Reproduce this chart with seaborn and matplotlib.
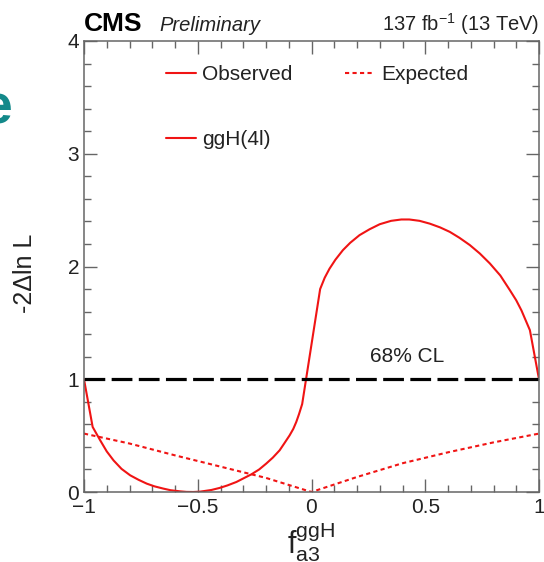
import matplotlib
matplotlib.use("Agg")
import matplotlib.pyplot as plt
from matplotlib.lines import Line2D
from matplotlib.ticker import MultipleLocator
import numpy as np
import pandas as pd
import seaborn as sns

# Likelihood scan in f_a3 (ggH, 4l channel)
obs_x = [-1.0, -0.962, -0.929, -0.90, -0.87, -0.835, -0.797, -0.76, -0.724,
         -0.69, -0.651, -0.62, -0.578, -0.55, -0.52, -0.49, -0.44, -0.404,
         -0.37, -0.33, -0.30, -0.264, -0.23, -0.199, -0.17, -0.14, -0.12,
         -0.096, -0.08, -0.067, -0.055, -0.041,
         0.038, 0.058, 0.079, 0.105, 0.138, 0.17, 0.211, 0.255, 0.30, 0.35,
         0.395, 0.43, 0.475, 0.52, 0.565, 0.608, 0.65, 0.696, 0.74, 0.784,
         0.83, 0.872, 0.90, 0.923, 0.960, 1.0]
obs_y = [1.0, 0.577, 0.459, 0.36, 0.28, 0.205, 0.148, 0.108, 0.074,
         0.05, 0.03, 0.016, 0.006, 0.001, 0.0, 0.003, 0.018, 0.036,
         0.058, 0.089, 0.12, 0.157, 0.2, 0.252, 0.305, 0.37, 0.43,
         0.503, 0.56, 0.621, 0.69, 0.78,
         1.80, 1.90, 1.98, 2.06, 2.145, 2.21, 2.278, 2.33, 2.375, 2.405,
         2.417, 2.417, 2.405, 2.38, 2.347, 2.307, 2.255, 2.19, 2.115, 2.027,
         1.92, 1.79, 1.70, 1.61, 1.435, 1.0]

exp_x = [-1.0, -0.8, -0.6, -0.4, -0.2, 0.0, 0.2, 0.4, 0.6, 0.8, 1.0]
exp_y = [0.518, 0.43, 0.325, 0.225, 0.125, 0.0, 0.133, 0.255, 0.352, 0.44, 0.518]

cl_level = 1.0
cl_label = "68% CL"

x_ticks = [-1, -0.5, 0, 0.5, 1]
x_tick_labels = ["\u22121", "\u22120.5", "0", "0.5", "1"]
y_ticks = [0, 1, 2, 3, 4]

sns.set_style("ticks")
plt.rcParams["font.family"] = ["Liberation Sans", "DejaVu Sans"]
plt.rcParams["mathtext.fontset"] = "custom"
plt.rcParams["mathtext.rm"] = "Liberation Sans"
plt.rcParams["mathtext.it"] = "Liberation Sans:italic"
plt.rcParams["mathtext.bf"] = "Liberation Sans:bold"

fig = plt.figure(figsize=(5.44, 5.62), dpi=100)
ax = fig.add_axes([84 / 544, 1 - 492 / 562, 455 / 544, 451 / 562])

obs = pd.DataFrame({"x": obs_x, "y": obs_y})
exp = pd.DataFrame({"x": exp_x, "y": exp_y})
red = "#f01414"

sns.lineplot(data=obs, x="x", y="y", ax=ax, color=red, lw=1.5,
             estimator=None, sort=False)
sns.lineplot(data=exp, x="x", y="y", ax=ax, color=red, lw=1.5,
             estimator=None, sort=False, dashes=False, linestyle=(0, (2, 1.6)))
ax.axhline(cl_level, color="black", lw=2.3, dashes=(6.5, 2.0))
ax.text(0.42, 1.155, cl_label, ha="center", va="baseline", fontsize=15,
        color="#222222")

ax.set_xlim(-1, 1)
ax.set_ylim(0, 4)
ax.set_xticks(x_ticks)
ax.set_xticklabels(x_tick_labels)
ax.set_yticks(y_ticks)
ax.xaxis.set_minor_locator(MultipleLocator(0.1))
ax.yaxis.set_minor_locator(MultipleLocator(0.2))

frame_col = "#666666"
for s in ax.spines.values():
    s.set_color(frame_col)
    s.set_linewidth(1.1)
ax.tick_params(which="both", direction="in", top=True, right=True,
               colors=frame_col, labelcolor="#222222", width=1.0)
ax.tick_params(which="major", length=9.5, labelsize=15)
ax.tick_params(axis="x", which="major", pad=4.5)
ax.tick_params(axis="y", which="major", pad=3.5)
ax.tick_params(which="minor", length=5)

ax.set_xlabel(r"$\mathrm{f}_{\mathrm{a3}}^{\mathrm{ggH}}$", fontsize=22,
              color="#222222")
ax.xaxis.set_label_coords(0.5, -0.064)
ax.set_ylabel("-2\u0394ln L", fontsize=18, color="#222222")
ax.yaxis.set_label_coords(-0.104, 0.486)

# header
ax.text(0.0, 1.023, "CMS", transform=ax.transAxes, fontsize=19,
        fontweight="bold", ha="left", va="baseline", color="black")
ax.text(0.165, 1.023, "Preliminary", transform=ax.transAxes, fontsize=14.5,
        style="italic", ha="left", va="baseline", color="#222222")
ax.text(1.0, 1.023, r"137 fb$^{\mathrm{-1}}$ (13 TeV)", transform=ax.transAxes,
        fontsize=14.5, ha="right", va="baseline", color="#222222")

# legends
h_obs = Line2D([], [], color=red, lw=1.5)
h_exp = Line2D([], [], color=red, lw=1.5, linestyle=(0, (2, 1.6)))
leg1 = ax.legend([h_obs, h_exp], ["Observed", "Expected"], ncol=2,
                 loc="upper left", bbox_to_anchor=(0.18, 0.946),
                 frameon=False, fontsize=15, handlelength=1.45,
                 handletextpad=0.3, columnspacing=2.5, borderpad=0,
                 borderaxespad=0)
ax.add_artist(leg1)
for t in leg1.get_texts():
    t.set_color("#222222")
leg2 = ax.legend([h_obs], ["ggH(4l)"], loc="upper left",
                 bbox_to_anchor=(0.18, 0.802), frameon=False, fontsize=15,
                 handlelength=1.45, handletextpad=0.3, borderpad=0,
                 borderaxespad=0)
for t in leg2.get_texts():
    t.set_color("#222222")

# slide text fragment at the left edge
fig.text(-0.033, 0.806, "e", color="#13898a", fontsize=40, fontweight="bold",
         ha="left", va="center")

fig.savefig("out.png", dpi=100)
